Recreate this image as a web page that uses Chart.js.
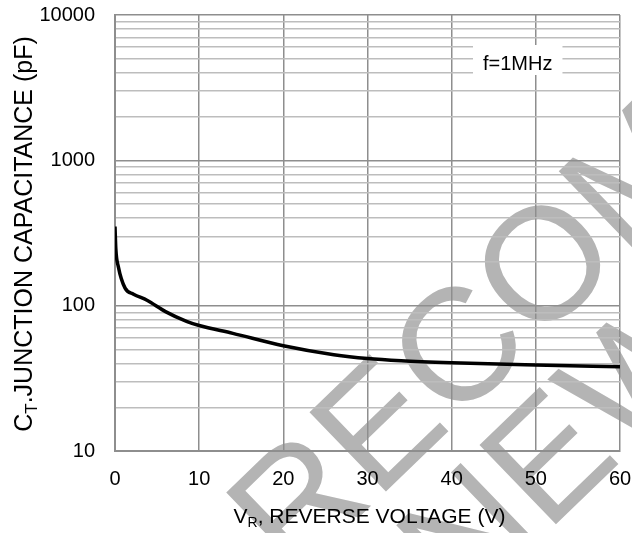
<!DOCTYPE html>
<html>
<head>
<meta charset="utf-8">
<script src="https://cdn.jsdelivr.net/npm/chart.js@4"></script>
<style>
  html, body { margin: 0; padding: 0; background: #fff; }
  #wrap { width: 632px; height: 533px; position: relative; }
</style>
</head>
<body>
<div id="wrap"><canvas id="c" width="632" height="533"></canvas></div>
<script>
// ---- data ----
const reverseVoltage = [0, 0.1, 0.4, 1.2, 2.2, 3.8, 6, 8.5, 10, 14, 20, 26, 30, 34, 40, 50, 60];
const capacitance    = [350, 245, 185, 132, 120, 109, 91, 78, 73, 64.5, 53, 46, 43.3, 41.8, 40.5, 39.1, 38];
const xTicks = [0, 10, 20, 30, 40, 50, 60];
const yDecades = [10, 100, 1000, 10000];
const yMinorMultipliers = [2, 3, 4, 5, 6, 7, 8, 9];
const noteText = 'f=1MHz';
const xTitleMain = 'V';
const xTitleSub = 'R';
const xTitleRest = ', REVERSE VOLTAGE (V)';
const yTitleMain = 'C';
const yTitleSub = 'T';
const yTitleRest = '.JUNCTION CAPACITANCE (pF)';
const watermarkLine1 = 'NOT RECOMMENDED';
const watermarkLine2 = 'FOR NEW DESIGN';

const FONT = 'Arial, "Liberation Sans", sans-serif';

const yGridValues = [];
yDecades.forEach((d, i) => {
  yGridValues.push(d);
  if (i < yDecades.length - 1) yMinorMultipliers.forEach(m => yGridValues.push(d * m));
});
yGridValues.sort((a, b) => a - b);
const isDecade = v => yDecades.includes(v);

const points = reverseVoltage.map((v, i) => ({ x: v, y: capacitance[i] }));

const decorPlugin = {
  id: 'decor',
  beforeDraw(chart) {
    const ctx = chart.ctx;
    ctx.save();
    ctx.fillStyle = '#ffffff';
    ctx.fillRect(0, 0, chart.width, chart.height);
    // watermark
    const fs = 160;
    ctx.font = fs + 'px ' + FONT;
    ctx.fillStyle = '#b4b4b4';
    const ang = -44 * Math.PI / 180;
    const dir = [Math.cos(ang), Math.sin(ang)];
    const perp = [-Math.sin(ang), Math.cos(ang)];
    function placeLine(text, idx, cx, cy) {
      const pre = ctx.measureText(text.slice(0, idx)).width;
      const w = ctx.measureText(text[idx]).width;
      const off = pre + w / 2;
      const mid = 0.358 * fs;
      const ox = cx - off * dir[0] + mid * perp[0];
      const oy = cy - off * dir[1] + mid * perp[1];
      ctx.save();
      ctx.translate(ox, oy);
      ctx.rotate(ang);
      ctx.textBaseline = 'alphabetic';
      ctx.textAlign = 'left';
      ctx.fillText(text, 0, 0);
      ctx.restore();
    }
    placeLine(watermarkLine1, watermarkLine1.indexOf('C'), 455, 345);
    placeLine(watermarkLine2, watermarkLine2.indexOf('E'), 545, 455);
    ctx.restore();
  },
  afterDatasetsDraw(chart) {
    const ctx = chart.ctx;
    ctx.save();
    // note box
    ctx.font = '20px ' + FONT;
    const tw = ctx.measureText(noteText).width;
    const nx = 483, ny = 70;
    ctx.fillStyle = '#ffffff';
    ctx.fillRect(nx - 10, ny - 25, tw + 20, 30);
    ctx.fillStyle = '#000000';
    ctx.textBaseline = 'alphabetic';
    ctx.textAlign = 'left';
    ctx.fillText(noteText, nx, ny);

    // x title with subscript
    const big = '21px ' + FONT, small = '14px ' + FONT;
    ctx.font = big; const w1 = ctx.measureText(xTitleMain).width;
    ctx.font = small; const w2 = ctx.measureText(xTitleSub).width;
    ctx.font = big; const w3 = ctx.measureText(xTitleRest).width;
    const total = w1 + w2 + w3;
    const area = chart.chartArea;
    let x = (area.left + area.right) / 2 - total / 2 + 2;
    const by = 523;
    ctx.font = big; ctx.fillText(xTitleMain, x, by); x += w1;
    ctx.font = small; ctx.fillText(xTitleSub, x, by + 4); x += w2;
    ctx.font = big; ctx.fillText(xTitleRest, x, by);

    // y title rotated
    const ybig = '25px ' + FONT, ysmall = '17px ' + FONT;
    ctx.font = ybig; const v1 = ctx.measureText(yTitleMain).width;
    ctx.font = ysmall; const v2 = ctx.measureText(yTitleSub).width;
    ctx.font = ybig; const v3 = ctx.measureText(yTitleRest).width;
    const vt = v1 + v2 + v3;
    ctx.translate(32, 234);
    ctx.rotate(-Math.PI / 2);
    let yx = -vt / 2;
    ctx.font = ybig; ctx.fillText(yTitleMain, yx, 0); yx += v1;
    ctx.font = ysmall; ctx.fillText(yTitleSub, yx, 5); yx += v2;
    ctx.font = ybig; ctx.fillText(yTitleRest, yx, 0);
    ctx.restore();
  }
};

new Chart(document.getElementById('c'), {
  type: 'line',
  data: {
    datasets: [{
      data: points,
      borderColor: '#000000',
      borderWidth: 3.5,
      pointRadius: 0,
      fill: false,
      cubicInterpolationMode: 'monotone'
    }]
  },
  options: {
    responsive: false,
    animation: false,
    layout: { padding: { top: 15, right: 12, left: 0, bottom: 0 } },
    plugins: { legend: { display: false }, tooltip: { enabled: false } },
    scales: {
      x: {
        type: 'linear',
        min: 0, max: 60,
        afterBuildTicks: s => { s.ticks = xTicks.map(v => ({ value: v })); },
        afterFit: s => { s.height = 82; s.paddingLeft = 0; s.paddingRight = 0; },
        grid: { color: '#8e8e8e', lineWidth: 1.5, drawTicks: false },
        border: { color: '#8e8e8e', width: 2 },
        ticks: { color: '#000', font: { family: FONT, size: 20 }, padding: 16, maxRotation: 0 }
      },
      y: {
        type: 'logarithmic',
        min: 10, max: 10000,
        afterBuildTicks: s => { s.ticks = yGridValues.map(v => ({ value: v })); },
        afterFit: s => { s.width = 115; s.paddingTop = 0; s.paddingBottom = 0; },
        grid: {
          color: c => isDecade(c.tick.value) ? '#8e8e8e' : '#bdbdbd',
          lineWidth: 1.5,
          drawTicks: false
        },
        border: { color: '#8e8e8e', width: 2 },
        ticks: {
          color: '#000', font: { family: FONT, size: 20 }, padding: 20, autoSkip: false,
          callback: v => isDecade(v) ? String(v) : ''
        }
      }
    }
  },
  plugins: [decorPlugin]
});
</script>
</body>
</html>
